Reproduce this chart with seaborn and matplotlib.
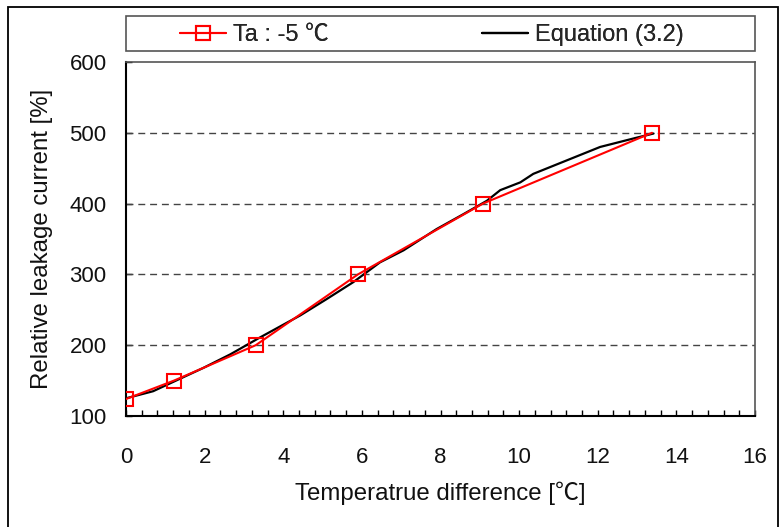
import matplotlib
matplotlib.use("Agg")
import matplotlib.pyplot as plt
from matplotlib.patches import Rectangle
from matplotlib.lines import Line2D
from matplotlib.ticker import MultipleLocator
import seaborn as sns
import pandas as pd

# Measured points at ambient temperature -5 degC
meas_dt = [0.0, 1.22, 3.3, 5.9, 9.08, 13.38]
meas_rel = [124, 150, 200, 300, 400, 500]

# Values from Equation (3.2)
eq_dt = [0.0, 0.69, 1.97, 2.65, 3.41, 4.43, 5.1, 5.78, 6.46, 7.06, 7.9,
         8.58, 9.18, 9.52, 10.03, 10.36, 11.21, 12.06, 12.91, 13.42]
eq_rel = [125, 135, 168, 187, 211, 242, 265, 289, 317, 334, 364,
          385, 404, 419, 430, 442, 461, 480, 492, 499]

x_ticks = [0, 2, 4, 6, 8, 10, 12, 14, 16]
y_ticks = [100, 200, 300, 400, 500, 600]

label_meas = "Ta : -5 \u2103"
label_eq = "Equation (3.2)"
x_label = "Temperatrue difference [\u2103]"
y_label = "Relative leakage current [%]"

sns.set_theme(style="white")
plt.rcParams["font.family"] = ["Liberation Sans", "Noto Sans CJK KR", "DejaVu Sans"]
FS_LABEL = 17.3
FS_TICK = 16
FS_LEG = 17

W, H = 784, 527
fig = plt.figure(figsize=(W / 100, H / 100), dpi=100)
fig.patch.set_facecolor("white")


def fx(px):
    return px / W


def fy(py):
    return 1 - py / H


ax = fig.add_axes([fx(126), fy(416), fx(755) - fx(126), fy(62) - fy(416)])

df_meas = pd.DataFrame({"dt": meas_dt, "rel": meas_rel})
df_eq = pd.DataFrame({"dt": eq_dt, "rel": eq_rel})

sns.lineplot(data=df_eq, x="dt", y="rel", ax=ax, color="black", lw=1.6,
             sort=False, estimator=None, zorder=3)
sns.lineplot(data=df_meas, x="dt", y="rel", ax=ax, color="red", lw=1.5,
             marker="s", markersize=10, markerfacecolor="none",
             markeredgecolor="red", markeredgewidth=1.5,
             sort=False, estimator=None, zorder=4)

ax.set_xlim(0, 16)
ax.set_ylim(100, 600)
ax.set_xticks(x_ticks)
ax.set_yticks(y_ticks)
ax.xaxis.set_minor_locator(MultipleLocator(0.4))
ax.tick_params(axis="both", which="both", direction="in", labelsize=FS_TICK,
               colors="black", bottom=True, left=True)
ax.tick_params(axis="x", which="major", length=4, width=1, pad=22)
ax.tick_params(axis="x", which="minor", length=4, width=1)
ax.tick_params(axis="y", which="major", length=4, width=1, pad=14)
for lab in ax.get_xticklabels() + ax.get_yticklabels():
    lab.set_color("#111111")

for y in y_ticks[1:-1]:
    ax.axhline(y, color="#444444", lw=1, ls=(0, (5, 3.5)), zorder=1)

for side in ["left", "bottom"]:
    ax.spines[side].set_color("black")
    ax.spines[side].set_linewidth(1.5)
for side in ["top", "right"]:
    ax.spines[side].set_color("#555555")
    ax.spines[side].set_linewidth(1.2)

ax.set_xlabel(x_label, fontsize=FS_LABEL, labelpad=10, color="#111111")
ax.set_ylabel(y_label, fontsize=FS_LABEL, labelpad=12, color="#111111")
if ax.get_legend() is not None:
    ax.get_legend().remove()

# Legend box above the plot area
fig.patches.append(Rectangle((fx(126), fy(51)), fx(755) - fx(126), fy(16) - fy(51),
                             transform=fig.transFigure, fill=False,
                             edgecolor="#555555", lw=1.2))
h_meas = Line2D([], [], color="red", lw=1.5, marker="s", markersize=10,
                markerfacecolor="none", markeredgecolor="red", markeredgewidth=1.5)
h_eq = Line2D([], [], color="black", lw=1.6)
for handle, text, x0 in [(h_meas, label_meas, 180), (h_eq, label_eq, 482)]:
    leg = fig.legend([handle], [text], loc="center left",
                     bbox_to_anchor=(fx(x0), fy(35)), frameon=False,
                     fontsize=FS_LEG, handlelength=1.95, handletextpad=0.3,
                     borderpad=0, borderaxespad=0)
    fig.add_artist(leg)

# Outer border
fig.patches.append(Rectangle((fx(8), fy(540)), fx(778) - fx(8), fy(7) - fy(540),
                             transform=fig.transFigure, fill=False,
                             edgecolor="black", lw=1.3, clip_on=False))

fig.savefig("out.png", dpi=100)
